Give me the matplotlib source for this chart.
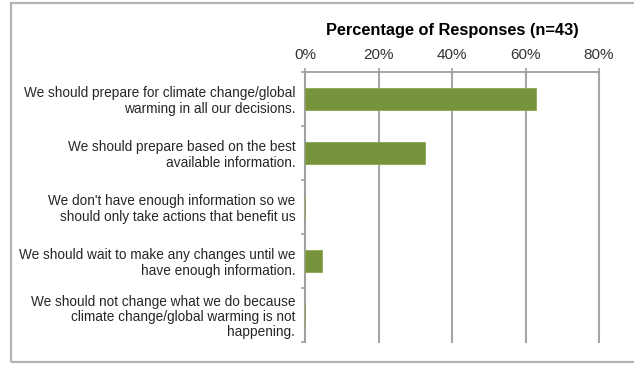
import matplotlib
matplotlib.use("Agg")
import matplotlib.pyplot as plt
from matplotlib.patches import Rectangle

# ------------------------------------------------------------
# Data
# ------------------------------------------------------------
responses = [
    "We should prepare for climate change/global\nwarming in all our decisions.",
    "We should prepare based on the best\navailable information.",
    "We don't have enough information so we\nshould only take actions that benefit us",
    "We should wait to make any changes until we\nhave enough information.",
    "We should not change what we do because\nclimate change/global warming is not\nhappening.",
]
percent = [62.8, 32.6, 0.0, 4.7, 0.0]
x_ticks = [0, 20, 40, 60, 80]
x_tick_labels = ["0%", "20%", "40%", "60%", "80%"]
title = "Percentage of Responses (n=43)"

# ------------------------------------------------------------
# Figure
# ------------------------------------------------------------
plt.rcParams["font.family"] = ["Liberation Sans", "DejaVu Sans"]

W, H = 634, 365
fig = plt.figure(figsize=(W / 100, H / 100), dpi=100)

# outer frame
fig.patches.append(Rectangle((11 / W, 3 / H), 1.0, (362 - 3) / H,
                             transform=fig.transFigure, fill=False,
                             edgecolor="#b4b4b4", linewidth=1.6, zorder=0))

ax = fig.add_axes([305 / W, (H - 342) / H, (599 - 305) / W, (342 - 72) / H])

y = list(range(len(responses)))
ax.barh(y, percent, height=0.41, color="#77933c", edgecolor="#8aa653",
        linewidth=0.6, zorder=3)

ax.set_xlim(0, 80)
ax.set_ylim(len(responses) - 0.5, -0.5)

ax.xaxis.tick_top()
ax.set_xticks(x_ticks)
ax.set_xticklabels(x_tick_labels, fontsize=11, color="#333333")
ax.tick_params(axis="x", which="major", direction="out", length=3,
               width=1.2, color="#a0a0a0", pad=4.5)

ax.set_yticks(y)
ax.set_yticklabels(responses, fontsize=9.8, color="#262626", linespacing=1.1)
ax.set_yticks([i - 0.5 for i in range(len(responses) + 1)], minor=True)
ax.tick_params(axis="y", which="major", length=0, pad=7)
ax.tick_params(axis="y", which="minor", direction="out", length=3,
               width=1.2, color="#a0a0a0")

ax.grid(axis="x", color="#a6a6a6", linewidth=1.5, zorder=0)
for gl in ax.get_xgridlines():
    gl.set_clip_on(False)
for side in ["right", "bottom"]:
    ax.spines[side].set_visible(False)
for side in ["left", "top"]:
    ax.spines[side].set_color("#a0a0a0")
    ax.spines[side].set_linewidth(1.3)

fig.text(452 / W, 1 - 30 / H, title, ha="center", va="center",
         fontsize=11.8, fontweight="bold", color="black")

fig.savefig("out.png", dpi=100)
